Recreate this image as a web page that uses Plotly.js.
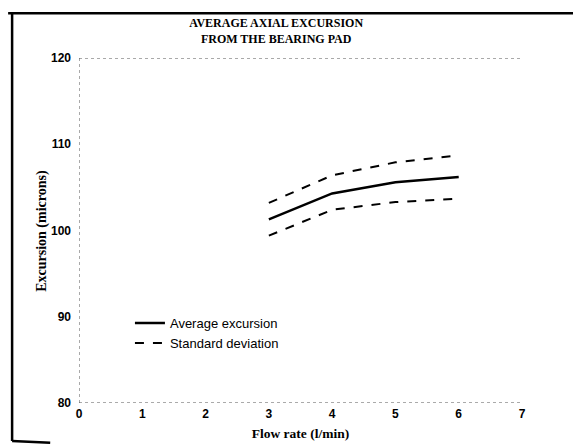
<!DOCTYPE html>
<html>
<head>
<meta charset="utf-8">
<script src="https://cdn.plot.ly/plotly-3.0.1.min.js"></script>
<style>
html,body{margin:0;padding:0;background:#fff;}
#chart{width:573px;height:446px;}
</style>
</head>
<body>
<div id="chart"></div>
<script>
var flowRate = [3, 4, 5, 6];
var avgExcursion = [101.3, 104.3, 105.6, 106.2];
var stdUpper = [103.2, 106.4, 107.9, 108.7];
var stdLower = [99.4, 102.4, 103.3, 103.7];
var xTicks = [0, 1, 2, 3, 4, 5, 6, 7];
var yTicks = [80, 90, 100, 110, 120];

var traces = [
  {x: flowRate, y: avgExcursion, mode: 'lines', name: 'Average excursion',
   line: {color: '#000', width: 2.5}},
  {x: flowRate, y: stdUpper, mode: 'lines', name: 'Standard deviation', legendgroup: 'sd',
   line: {color: '#000', width: 2, dash: 'dash'}},
  {x: flowRate, y: stdLower, mode: 'lines', name: 'Standard deviation', legendgroup: 'sd', showlegend: false,
   line: {color: '#000', width: 2, dash: 'dash'}}
];

var dotted = {color: '#555', width: 1, dash: 'dot'};
var frame = {color: '#000', width: 2.5};
var layout = {
  width: 573, height: 446,
  margin: {l: 79, r: 51, t: 58, b: 43},
  paper_bgcolor: '#fff', plot_bgcolor: '#fff',
  title: {text: '<b>AVERAGE AXIAL EXCURSION<br>FROM THE BEARING PAD</b>',
          font: {family: 'Liberation Serif, Times New Roman, serif', size: 12, color: '#000'},
          x: 0.482, xanchor: 'center', y: 0.939, yanchor: 'top'},
  xaxis: {range: [0, 7], tickvals: xTicks, ticktext: xTicks.map(String),
          showgrid: false, zeroline: false, showline: false, ticks: '', ticklabelstandoff: 2,
          tickfont: {family: 'Liberation Sans, Arial, sans-serif', size: 12, color: '#000', weight: 'bold'},
          title: {text: '<b>Flow rate (l/min)</b>', standoff: 8,
                  font: {family: 'Liberation Serif, Times New Roman, serif', size: 13.5, color: '#000'}},
          fixedrange: true},
  yaxis: {range: [80, 120], tickvals: yTicks, ticktext: yTicks.map(String),
          showgrid: false, zeroline: false, showline: false, ticks: '', ticklabelstandoff: 7,
          tickfont: {family: 'Liberation Sans, Arial, sans-serif', size: 12, color: '#000', weight: 'bold'},
          fixedrange: true},
  annotations: [
    {text: '<b>Excursion (microns)</b>', xref: 'paper', yref: 'paper', x: -0.085, y: 0.5,
     xanchor: 'center', yanchor: 'middle', textangle: -90, showarrow: false,
     font: {family: 'Liberation Serif, Times New Roman, serif', size: 14, color: '#000'}}
  ],
  legend: {x: 0.115, y: 0.275, xanchor: 'left', yanchor: 'top', bgcolor: 'rgba(0,0,0,0)',
           font: {family: 'Liberation Sans, Arial, sans-serif', size: 13, color: '#000'},
           tracegroupgap: 0},
  showlegend: true,
  shapes: [
    {type: 'line', xref: 'x', yref: 'y', x0: 0, x1: 7, y0: 120, y1: 120, line: dotted},
    {type: 'line', xref: 'x', yref: 'y', x0: 0, x1: 7, y0: 80, y1: 80, line: dotted},
    {type: 'line', xref: 'x', yref: 'y', x0: 0, x1: 0, y0: 80, y1: 120, line: dotted},
    {type: 'line', xref: 'paper', yref: 'paper', x0: -0.16, x1: 1.12, y0: 1.13, y1: 1.13, line: frame},
    {type: 'line', xref: 'paper', yref: 'paper', x0: -0.151, x1: -0.151, y0: 1.13, y1: -0.11, line: frame},
    {type: 'line', xref: 'paper', yref: 'paper', x0: -0.151, x1: -0.065, y0: -0.11, y1: -0.115, line: frame}
  ]
};

Plotly.newPlot('chart', traces, layout, {displayModeBar: false, staticPlot: true});
</script>
</body>
</html>
